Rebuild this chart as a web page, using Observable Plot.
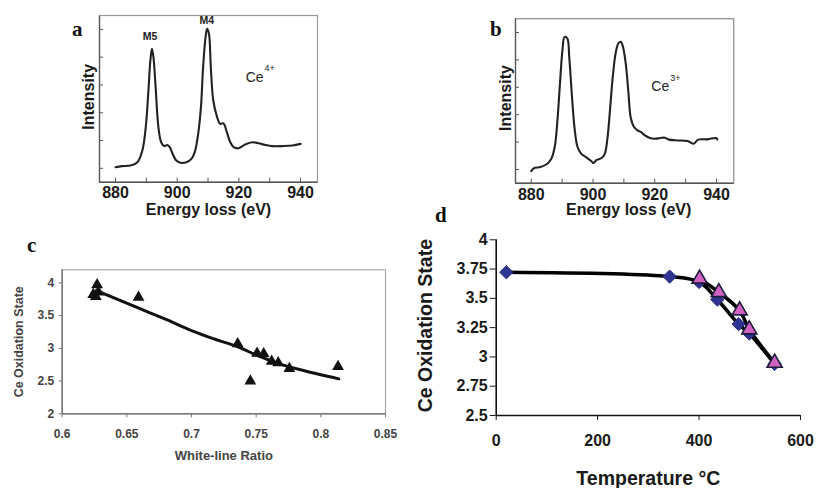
<!DOCTYPE html>
<html><head><meta charset="utf-8">
<script src="https://cdn.jsdelivr.net/npm/d3@7"></script>
<script src="https://cdn.jsdelivr.net/npm/@observablehq/plot@0.6"></script>
<style>
body{margin:0;background:#fff;}
#fig{position:relative;width:816px;height:488px;overflow:hidden;font-family:"Liberation Sans",Arial,sans-serif;}
.panel{position:absolute;}
.box{position:absolute;box-sizing:border-box;border-style:solid;border-width:1px;border-top-color:#9a9a9a;border-right-color:#9a9a9a;border-left-color:#555;border-bottom-color:#555;pointer-events:none;}
.letter{position:absolute;font-family:"Liberation Serif","Times New Roman",serif;font-weight:bold;font-size:21px;line-height:1;color:#111;}
</style></head><body><div id="fig"></div>
<script>
// ---------- DATA ----------
// Panel a: Ce4+ EELS spectrum [energy eV, intensity a.u.]
const ce4Spectrum = [
 [880,0.54],[882,0.58],[884.9,0.6],[887.1,0.72],[888.7,1.14],[889.8,1.98],[890.6,3.18],[891.3,4.38],
 [891.8,4.8],[892.3,4.5],[893,3.42],[893.9,1.98],[894.8,1.44],[895.8,1.3],[896.7,1.34],[897.6,1.26],
 [898.6,1.0],[899.7,0.78],[901.1,0.7],[903,0.72],[904.6,0.84],[905.7,1.08],[906.8,1.74],[907.7,2.7],
 [908.4,4.14],[909.2,5.22],[909.7,5.52],[910.3,5.34],[910.9,4.14],[911.7,2.94],[912.8,2.4],[913.9,2.1],
 [915,2.12],[916.1,1.8],[917.2,1.44],[918.3,1.26],[919.9,1.22],[922.1,1.36],[924.3,1.44],[926.4,1.40],
 [928.6,1.34],[930.8,1.30],[934.1,1.30],[937.4,1.32],[940,1.38]
];
const energyDomainA = [874.8, 945.5];
const energyTicksA = [880, 900, 920, 940];
const energyMinorTicksA = [880, 890, 900, 910, 920, 930, 940];
const intensityDomainA = [0, 6];
const intensityTicksA = [0.5, 1.5, 2.5, 3.5, 4.5, 5.5];
const peakLabelsA = [{x: 891.2, y: 5.23, t: "M5"}, {x: 909.6, y: 5.83, t: "M4"}];
const ionLabelA = [{x: 922.2, y: 3.75, t: "Ce"}];
const ionSupA = [{x: 928.3, y: 4.1, t: "4+"}];

// Panel b: Ce3+ EELS spectrum
const ce3Spectrum = [
 [880,0.44],[880.9,0.55],[883,0.59],[885.2,0.71],[886.5,0.89],[887.6,1.32],[888.4,2.17],[889.3,3.63],
 [890.1,4.85],[890.8,5.34],[891.7,5.28],[892.3,4.61],[893.2,3.15],[894.1,1.93],[895,1.32],[896.2,1.07],
 [898,0.93],[899.5,0.80],[900.1,0.73],[901.2,0.85],[902.7,0.91],[903.8,1.07],[904.6,1.56],[905.5,2.66],
 [906.4,3.88],[907.4,4.79],[908.3,5.12],[909,5.16],[909.7,4.98],[910.6,4.37],[911.5,3.27],[912.2,2.41],
 [913.3,2.05],[914.4,1.93],[915.5,1.87],[916.5,1.77],[918.2,1.66],[919.8,1.62],[921.9,1.65],[923.2,1.66],
 [924.6,1.59],[927.4,1.56],[930.6,1.54],[932.5,1.44],[934.1,1.59],[937.1,1.60],[939.8,1.65],[940.3,1.60]
];
const energyDomainB = [874.9, 945.6];
const energyTicksB = [880, 900, 920, 940];
const energyMinorTicksB = [880, 890, 900, 910, 920, 930, 940];
const intensityDomainB = [0, 6];
const intensityTicksB = [0.5, 1.5, 2.5, 3.5, 4.5, 5.5];
const ionLabelB = [{x: 918.9, y: 3.54, t: "Ce"}];
const ionSupB = [{x: 925.0, y: 3.83, t: "3+"}];

// Panel c: oxidation state vs white-line ratio
const ratioPoints = [
 [0.624,3.82],[0.626,3.79],[0.627,3.97],[0.628,3.86],[0.659,3.78],[0.7357,3.07],[0.7455,2.50],
 [0.7507,2.925],[0.7558,2.916],[0.762,2.80],[0.767,2.78],[0.7757,2.69],[0.8133,2.72]
];
const ratioFit = [
 [0.6265,3.883],[0.6606,3.603],[0.6812,3.435],[0.70,3.272],[0.7173,3.145],[0.7353,3.028],
 [0.7508,2.891],[0.7662,2.774],[0.7843,2.672],[0.8139,2.534]
];
const ratioDomain = [0.6, 0.85];
const ratioTicks = [0.6, 0.65, 0.7, 0.75, 0.8, 0.85];
const oxDomainC = [2, 4.2];
const oxTicksC = [2, 2.5, 3, 3.5, 4];

// Panel d: oxidation state vs temperature
const tempDiamonds = [[20,3.723],[342,3.686],[400,3.64],[436,3.49],[478,3.28],[499,3.20],[549,2.94]];
const tempTriangles = [[401,3.667],[439,3.552],[480,3.396],[499,3.234],[549,2.949]];
const tempDomain = [0, 600];
const tempTicks = [0, 200, 400, 600];
const oxDomainD = [2.5, 4];
const oxTicksD = [2.5, 2.75, 3, 3.25, 3.5, 3.75, 4];

// ---------- RENDER ----------
const FONT = '"Liberation Sans", Arial, sans-serif';
const fig = document.getElementById("fig");
function place(el, left, top) {
  const d = document.createElement("div");
  d.className = "panel"; d.style.left = left + "px"; d.style.top = top + "px";
  d.appendChild(el); fig.appendChild(d);
}
function box(left, top, w, h) {
  const d = document.createElement("div");
  d.className = "box";
  Object.assign(d.style, {left: left + "px", top: top + "px", width: w + "px", height: h + "px"});
  fig.appendChild(d);
}
const styleFor = () => ({fontFamily: FONT, background: "transparent", color: "#1a1a1a", overflow: "visible"});
const X = d => d[0], Y = d => d[1];

// ----- panel c -----
const plotC = Plot.plot({
  width: 400, height: 230, marginLeft: 61.7, marginRight: 15, marginTop: 29.3, marginBottom: 56.7,
  x: {domain: ratioDomain, label: null},
  y: {domain: oxDomainC, label: null},
  style: styleFor(),
  marks: [
    Plot.frame({stroke: "#aaa", strokeWidth: 1.2}),
    Plot.ruleX([ratioDomain[0]], {stroke: "#777", strokeWidth: 1.5}),
    Plot.ruleY([oxDomainC[0]], {stroke: "#777", strokeWidth: 1.5}),
    Plot.axisY(oxTicksC, {tickSize: 3, tickPadding: 5, fontSize: 12, fontWeight: "bold", fill: "#444", stroke: "#777", tickFormat: d => String(d)}),
    Plot.axisX(ratioTicks, {tickSize: 4, tickPadding: 11.7, fontSize: 12, fontWeight: "bold", fill: "#444", stroke: "#777", tickFormat: d => String(d)}),
    Plot.line(ratioFit, {x: X, y: Y, curve: "catmull-rom", stroke: "#111", strokeWidth: 3}),
    Plot.dot(ratioPoints, {x: X, y: Y, symbol: "triangle", r: 4.4, fill: "#111", stroke: "none"}),
    Plot.text(["Ce Oxidation State"], {frameAnchor: "left", dx: -43.7, rotate: -90, textAnchor: "middle", fontSize: 12.5, fontWeight: "bold", fill: "#444"}),
    Plot.text(["White-line Ratio"], {frameAnchor: "bottom", dy: 41.7, textAnchor: "middle", lineAnchor: "middle", fontSize: 13, fontWeight: "bold", fill: "#444"})
  ]
});
place(plotC, 0, 240);

// ----- panel d -----
const plotD = Plot.plot({
  width: 406, height: 268, marginLeft: 85.7, marginRight: 16, marginTop: 19.3, marginBottom: 73,
  x: {domain: tempDomain, label: null},
  y: {domain: oxDomainD, label: null},
  style: styleFor(),
  marks: [
    Plot.axisY(oxTicksD, {tickSize: 6, tickPadding: 2.5, fontSize: 16, fontWeight: "bold", fill: "#1a1a1a", tickFormat: d => String(d)}),
    Plot.axisX(tempTicks, {tickSize: 5, tickPadding: 14.3, fontSize: 16, fontWeight: "bold", fill: "#1a1a1a", tickFormat: d => String(d)}),
    Plot.ruleX([tempDomain[0]], {stroke: "#111", strokeWidth: 1.6}),
    Plot.ruleY([oxDomainD[0]], {stroke: "#111", strokeWidth: 1.6}),
    Plot.line(tempDiamonds, {x: X, y: Y, curve: "catmull-rom", stroke: "#000", strokeWidth: 3.6}),
    Plot.line(tempTriangles, {x: X, y: Y, curve: "catmull-rom", stroke: "#000", strokeWidth: 3.6}),
    Plot.dot(tempDiamonds, {x: X, y: Y, symbol: "diamond2", r: 6, fill: "#2f3391", stroke: "#2a2d80", strokeWidth: 1}),
    Plot.dot(tempTriangles, {x: X, y: Y, symbol: "triangle", r: 5.6, fill: "#d062c2", stroke: "#1c1c3c", strokeWidth: 1.6}),
    Plot.text(["Ce Oxidation State"], {frameAnchor: "left", dx: -70.2, dy: -2, rotate: -90, textAnchor: "middle", fontSize: 19.5, fontWeight: "bold", fill: "#1a1a1a"}),
    Plot.text(["Temperature °C"], {frameAnchor: "bottom", dy: 63.3, textAnchor: "middle", lineAnchor: "middle", fontSize: 19.5, fontWeight: "bold", fill: "#1a1a1a"})
  ]
});
place(plotD, 410, 220);

// ----- panel a -----
const plotA = Plot.plot({
  width: 280, height: 230, marginLeft: 39, marginRight: 23, marginTop: 15, marginBottom: 48.3,
  x: {domain: energyDomainA, label: null},
  y: {domain: intensityDomainA, label: null},
  style: styleFor(),
  marks: [
    Plot.frame({stroke: "#9a9a9a", strokeWidth: 1.2}),
    Plot.ruleX([energyDomainA[0]], {stroke: "#555", strokeWidth: 1.3}),
    Plot.ruleY([intensityDomainA[0]], {stroke: "#555", strokeWidth: 1.3}),
    Plot.axisY(intensityTicksA, {tickSize: -4, fill: "none", stroke: "#555"}),
    Plot.axisX(energyMinorTicksA, {tickSize: -4, fill: "none", stroke: "#555"}),
    Plot.axisX(energyTicksA, {tickSize: 0, tickPadding: 4.3, fontSize: 16, fontWeight: "bold", fill: "#1a1a1a", tickFormat: d => String(d)}),
    Plot.line(ce4Spectrum, {x: X, y: Y, curve: "catmull-rom", stroke: "#222", strokeWidth: 2.1}),
    Plot.text(["Intensity"], {frameAnchor: "left", dx: -10.7, dy: -2, rotate: -90, textAnchor: "middle", fontSize: 16, fontWeight: "bold", fill: "#1a1a1a"}),
    Plot.text(["Energy loss (eV)"], {frameAnchor: "bottom", dy: 27.5, textAnchor: "middle", lineAnchor: "middle", fontSize: 16, fontWeight: "bold", fill: "#1a1a1a"}),
    Plot.text(peakLabelsA, {x: "x", y: "y", text: "t", fontSize: 10.5, fontWeight: "bold", fill: "#222"}),
    Plot.text(ionLabelA, {x: "x", y: "y", text: "t", textAnchor: "start", fontSize: 14, fill: "#222"}),
    Plot.text(ionSupA, {x: "x", y: "y", text: "t", textAnchor: "start", fontSize: 9, fill: "#222"})
  ]
});
place(plotA, 60, 0);

// ----- panel b -----
const plotB = Plot.plot({
  width: 290, height: 230, marginLeft: 45, marginRight: 26.7, marginTop: 18.3, marginBottom: 47.3,
  x: {domain: energyDomainB, label: null},
  y: {domain: intensityDomainB, label: null},
  style: styleFor(),
  marks: [
    Plot.frame({stroke: "#9a9a9a", strokeWidth: 1.2}),
    Plot.ruleX([energyDomainB[0]], {stroke: "#555", strokeWidth: 1.3}),
    Plot.ruleY([intensityDomainB[0]], {stroke: "#555", strokeWidth: 1.3}),
    Plot.axisY(intensityTicksB, {tickSize: -4, fill: "none", stroke: "#555"}),
    Plot.axisX(energyMinorTicksB, {tickSize: -4, fill: "none", stroke: "#555"}),
    Plot.axisX(energyTicksB, {tickSize: 0, tickPadding: 5.2, fontSize: 16, fontWeight: "bold", fill: "#1a1a1a", tickFormat: d => String(d)}),
    Plot.line(ce3Spectrum, {x: X, y: Y, curve: "catmull-rom", stroke: "#222", strokeWidth: 2.1}),
    Plot.text(["Intensity"], {frameAnchor: "left", dx: -10, dy: -3, rotate: -90, textAnchor: "middle", fontSize: 16, fontWeight: "bold", fill: "#1a1a1a"}),
    Plot.text(["Energy loss (eV)"], {frameAnchor: "bottom", dy: 27, dx: 4, textAnchor: "middle", lineAnchor: "middle", fontSize: 16, fontWeight: "bold", fill: "#1a1a1a"}),
    Plot.text(ionLabelB, {x: "x", y: "y", text: "t", textAnchor: "start", fontSize: 14, fill: "#222"}),
    Plot.text(ionSupB, {x: "x", y: "y", text: "t", textAnchor: "start", fontSize: 9, fill: "#222"})
  ]
});
place(plotB, 470, 0);

// plot-area borders of the two spectra (aligned with the Plot frames)
box(99, 15, 219, 167.7);
box(515, 18.3, 219.3, 165.4);

// panel letters
[["a", 72, 18.5], ["b", 490, 18.5], ["c", 27, 235], ["d", 435, 204.5]].forEach(([t, l, tp]) => {
  const s = document.createElement("div");
  s.className = "letter"; s.textContent = t; s.style.left = l + "px"; s.style.top = tp + "px";
  fig.appendChild(s);
});
</script></body></html>
